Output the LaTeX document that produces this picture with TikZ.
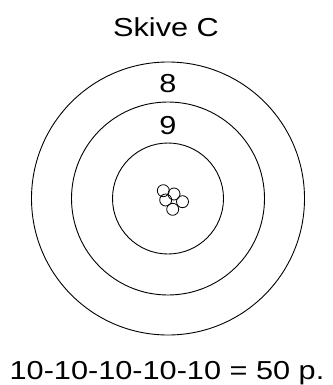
\documentclass[tikz,border=0pt]{standalone}
\usepackage{graphicx}
\usepackage{fontspec}
\setmainfont{Liberation Sans}
\usetikzlibrary{positioning}

\newcommand{\wide}[1]{\scalebox{1.18}[1]{#1}}

\begin{document}
\begin{tikzpicture}[
  x=1pt, y=1pt,
  ring/.style={draw, line width=0.9pt},
  hole/.style={draw, line width=0.8pt},
  lbl/.style={anchor=base, inner sep=0pt, font=\fontsize{26}{28}\selectfont}
]
\useasboundingbox (0,0) rectangle (332,-385);
\coordinate (c) at (168,-198.5);

% rings
\draw[ring] (c) circle (136.5);
\draw[ring] (c) circle (96.5);
\draw[ring] (c) circle (55.5);

% shots
\foreach \dx/\dy in {-4.7/7.8, 6/4.5, -2.3/-1.5, 14.5/-3.2, 4.7/-10.8}
  \draw[hole] ([shift={(\dx,\dy)}]c) circle (6);

\node[lbl] (title) at (166,-37) {\wide{Skive C}};
\node[lbl] (eight) at (168,-92.5) {\wide{8}};
\node[lbl] (nine) at (168,-134.5) {\wide{9}};
\node[lbl] (score) at (167,-379.5) {\wide{10-10-10-10-10 = 50 p.}};
\end{tikzpicture}
\end{document}
